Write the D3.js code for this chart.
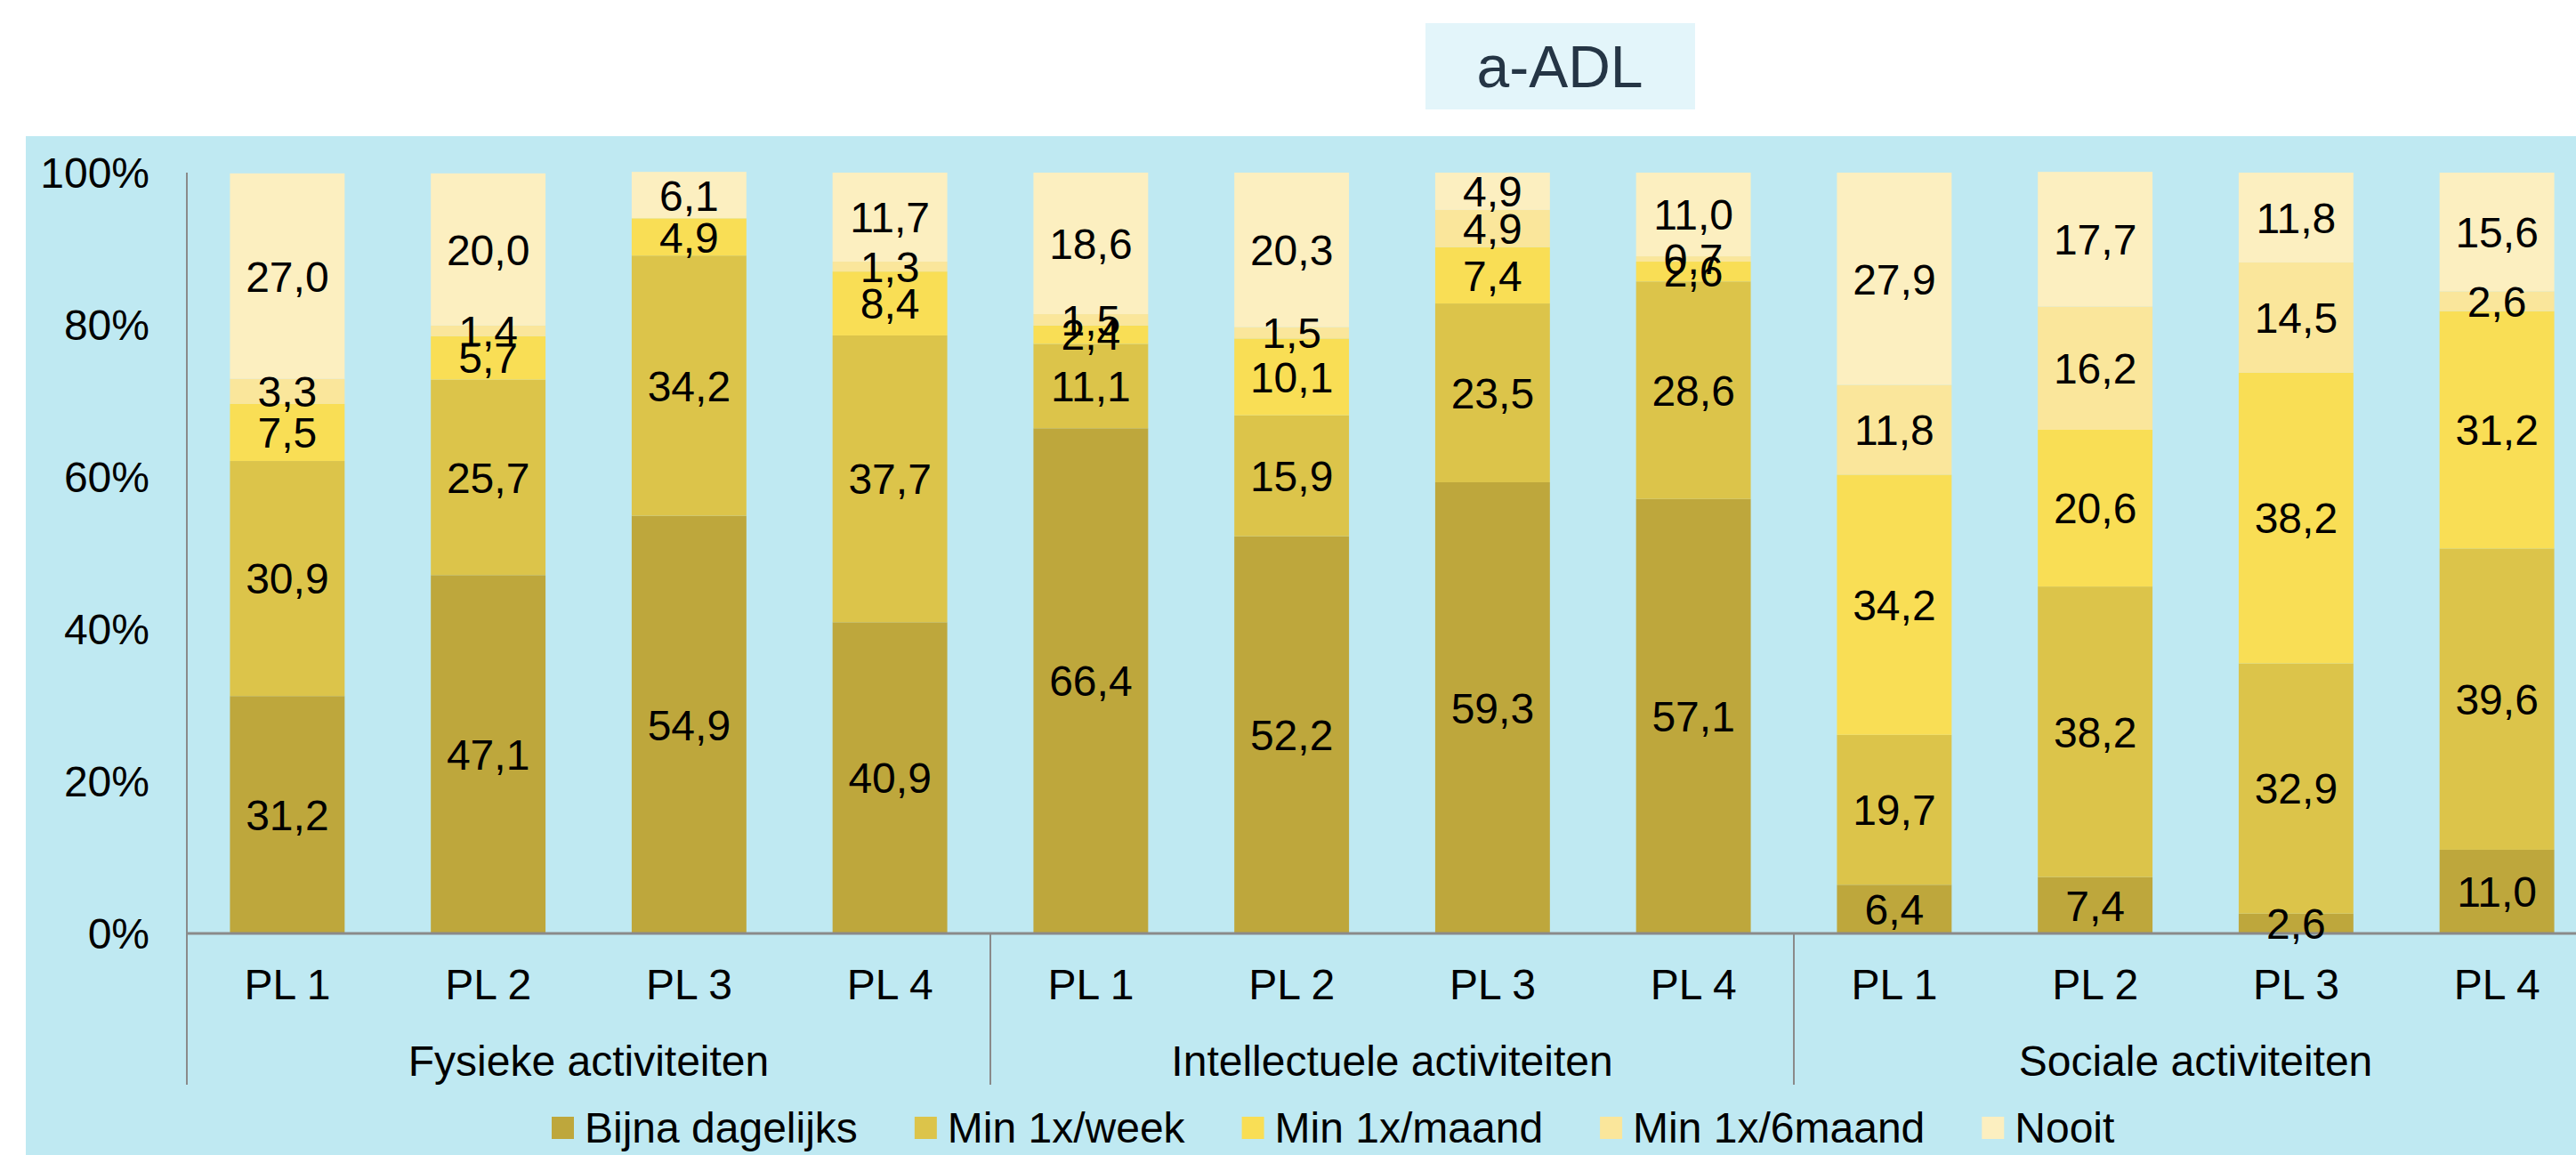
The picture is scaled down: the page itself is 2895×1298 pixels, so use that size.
<!DOCTYPE html>
<html>
<head>
<meta charset="utf-8">
<script src="https://cdn.jsdelivr.net/npm/d3@7"></script>
<style>
    body { margin: 0; background: #ffffff; }
    svg { display: block; font-family: 'Liberation Sans', Arial, sans-serif; }
</style>
</head>
<body>
<div id="chart"></div>
<script>
const groups = ['Fysieke activiteiten', 'Intellectuele activiteiten', 'Sociale activiteiten'];
const levels = ['PL 1', 'PL 2', 'PL 3', 'PL 4'];
const series = ['Bijna dagelijks', 'Min 1x/week', 'Min 1x/maand', 'Min 1x/6maand', 'Nooit'];
const colors = ['#bea73c', '#dcc44a', '#f9de55', '#fae69b', '#fcefc0'];
const y_ticks = [0, 20, 40, 60, 80, 100];

// one value per bar, bars ordered group by group (PL 1..4)
const bijna_dagelijks = [31.2, 47.1, 54.9, 40.9, 66.4, 52.2, 59.3, 57.1, 6.4, 7.4, 2.6, 11.0];
const min_week        = [30.9, 25.7, 34.2, 37.7, 11.1, 15.9, 23.5, 28.6, 19.7, 38.2, 32.9, 39.6];
const min_maand       = [7.5, 5.7, 4.9, 8.4, 2.4, 10.1, 7.4, 2.6, 34.2, 20.6, 38.2, 31.2];
const min_6maand      = [3.3, 1.4, 0.0, 1.3, 1.5, 1.5, 4.9, 0.7, 11.8, 16.2, 14.5, 2.6];
const nooit           = [27.0, 20.0, 6.1, 11.7, 18.6, 20.3, 4.9, 11.0, 27.9, 17.7, 11.8, 15.6];

(function() {
    const width = 2895, height = 1298;
    const font_size = 48;
    const values = [bijna_dagelijks, min_week, min_maand, min_6maand, nooit];

    let bars = [];
    groups.forEach(function(g, gi) {
        levels.forEach(function(l, li) {
            const i = gi * levels.length + li;
            let row = { key: i, group: g, level: l };
            series.forEach((s, si) => row[s] = values[si][i]);
            bars.push(row);
        });
    });

    const stacked = d3.stack().keys(series)(bars);

    let svg = d3.select('#chart').append('svg')
        .attr('width', width)
        .attr('height', height);

    // panel background
    svg.append('rect')
        .attr('x', 29).attr('y', 153)
        .attr('width', width - 29).attr('height', height - 153)
        .attr('fill', '#bfe9f2');

    // title box
    let title = svg.append('g').attr('transform', 'translate(1753,74)');
    title.append('rect')
        .attr('x', -151).attr('y', -48)
        .attr('width', 303).attr('height', 97)
        .attr('fill', '#e3f5fa');
    title.append('text')
        .attr('text-anchor', 'middle')
        .attr('dy', '0.36em')
        .attr('font-size', 66)
        .attr('fill', '#253545')
        .text('a-ADL');

    let x = d3.scaleBand()
        .domain(bars.map((d) => d.key))
        .range([210, 2919])
        .paddingInner(0.429)
        .paddingOuter(0.2145);

    let y = d3.scaleLinear()
        .domain([0, 100])
        .range([1049, 194]);

    // y tick labels
    svg.append('g')
        .attr('font-size', font_size)
        .selectAll('text')
        .data(y_ticks)
        .enter().append('text')
        .attr('x', 168)
        .attr('y', (d) => y(d))
        .attr('dy', '0.36em')
        .attr('text-anchor', 'end')
        .attr('fill', '#000000')
        .text((d) => d + '%');

    // bars
    let layers = svg.append('g')
        .selectAll('g')
        .data(stacked)
        .enter().append('g')
        .attr('fill', (d, i) => colors[i]);

    layers.selectAll('rect')
        .data((d) => d)
        .enter().append('rect')
        .attr('x', (d) => x(d.data.key))
        .attr('y', (d) => y(d[1]))
        .attr('width', x.bandwidth())
        .attr('height', (d) => y(d[0]) - y(d[1]));

    // axis lines
    const axis_color = '#8a8a8a';
    svg.append('line')
        .attr('x1', 210).attr('x2', width)
        .attr('y1', y(0)).attr('y2', y(0))
        .attr('stroke', axis_color).attr('stroke-width', 3);

    const step = x.step();
    const sep_x = d3.range(groups.length + 1).map((i) => 210 + i * levels.length * step);
    svg.append('g')
        .selectAll('line')
        .data(sep_x)
        .enter().append('line')
        .attr('x1', (d) => d).attr('x2', (d) => d)
        .attr('y1', (d, i) => i === 0 ? y(100) : y(0))
        .attr('y2', 1219)
        .attr('stroke', axis_color).attr('stroke-width', 2);

    // value labels
    let labels = svg.append('g')
        .attr('font-size', font_size)
        .attr('text-anchor', 'middle')
        .attr('fill', '#000000');

    stacked.forEach(function(layer) {
        labels.selectAll(null)
            .data(layer.filter((d) => d[1] - d[0] > 0))
            .enter().append('text')
            .attr('x', (d) => x(d.data.key) + x.bandwidth() / 2)
            .attr('y', (d) => y((d[0] + d[1]) / 2))
            .attr('dy', '0.36em')
            .text((d) => d3.format('.1f')(d[1] - d[0]).replace('.', ','));
    });

    // category labels
    svg.append('g')
        .attr('font-size', font_size)
        .attr('text-anchor', 'middle')
        .selectAll('text')
        .data(bars)
        .enter().append('text')
        .attr('x', (d) => x(d.key) + x.bandwidth() / 2)
        .attr('y', 1106)
        .attr('dy', '0.36em')
        .text((d) => d.level);

    svg.append('g')
        .attr('font-size', font_size)
        .attr('text-anchor', 'middle')
        .selectAll('text')
        .data(groups)
        .enter().append('text')
        .attr('x', (d, i) => (sep_x[i] + sep_x[i + 1]) / 2)
        .attr('y', 1192)
        .attr('dy', '0.36em')
        .text((d) => d);

    // legend
    let legend = svg.append('g').attr('font-size', font_size);
    let items = legend.selectAll('g')
        .data(series)
        .enter().append('g');
    items.append('rect')
        .attr('y', 1255)
        .attr('width', 25).attr('height', 25)
        .attr('fill', (d, i) => colors[i]);
    items.append('text')
        .attr('x', 37)
        .attr('y', 1267)
        .attr('dy', '0.36em')
        .text((d) => d);

    let lx = 620;
    items.each(function() {
        d3.select(this).attr('transform', 'translate(' + lx + ',0)');
        lx += 37 + this.querySelector('text').getComputedTextLength() + 64;
    });
}());
</script>
</body>
</html>
